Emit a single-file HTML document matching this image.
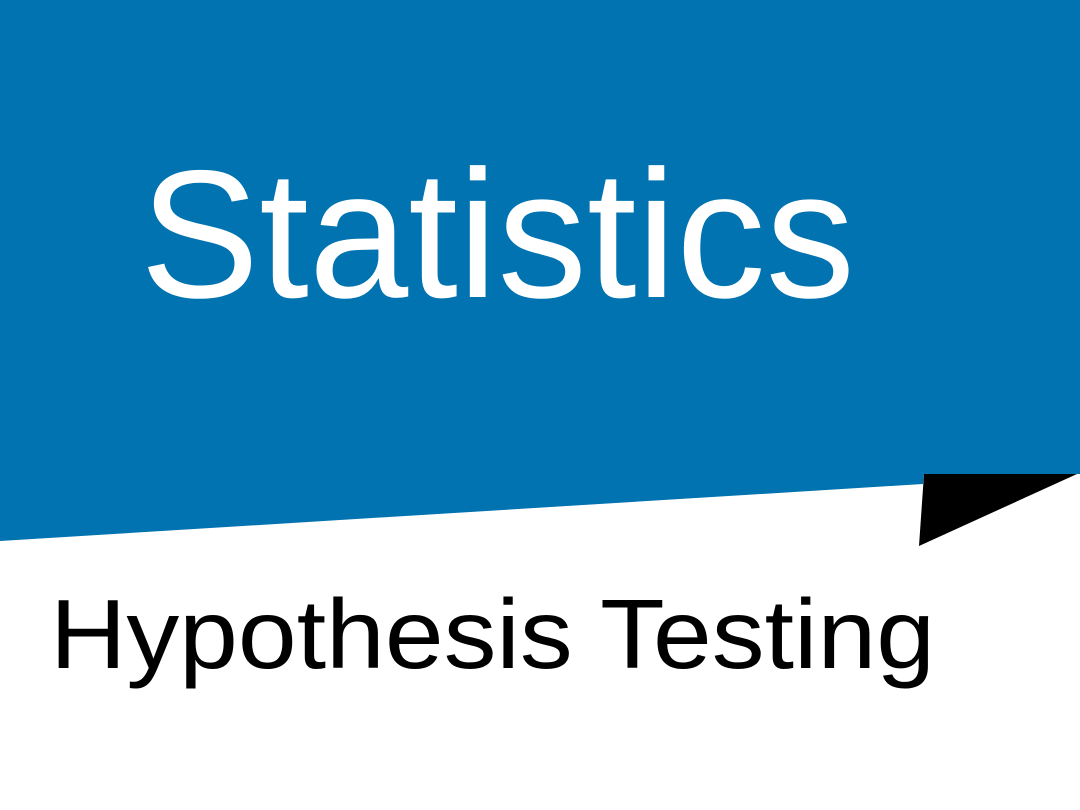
<!DOCTYPE html>
<html><head><meta charset="utf-8"><style>
html,body{margin:0;padding:0;background:#fff;width:1080px;height:810px;overflow:hidden}
</style></head><body>
<svg width="1080" height="810" viewBox="0 0 1080 810">
<rect x="0" y="0" width="1080" height="810" fill="#fff"/>
<polygon points="0,0 1080,0 1080,474 924,474 923,484 0,541" fill="#0073b0"/>
<polygon points="924,474 1077,474 919,546" fill="#000"/>
<text x="140" y="297" font-family="'Liberation Sans', sans-serif" font-size="182" fill="#fff" textLength="715" lengthAdjust="spacingAndGlyphs">Statistics</text>
<text x="50" y="668" font-family="'Liberation Sans', sans-serif" font-size="98" fill="#000" textLength="885" lengthAdjust="spacingAndGlyphs">Hypothesis Testing</text>
</svg>
</body></html>
